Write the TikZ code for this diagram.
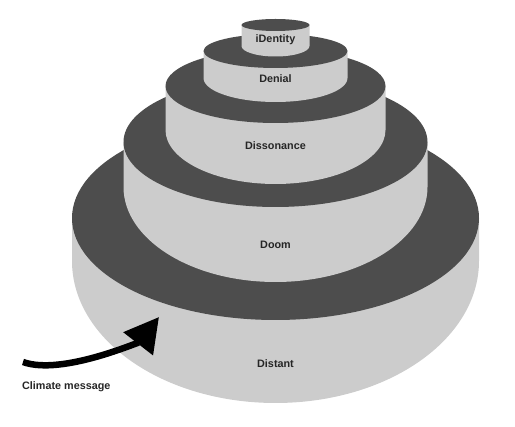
\documentclass[tikz,border=0pt]{standalone}
\usepackage{fontspec}
\setsansfont{Liberation Sans}
\usetikzlibrary{arrows.meta}
\definecolor{tierdark}{HTML}{4D4D4D}
\definecolor{tierlight}{HTML}{CCCCCC}

\begin{document}
\begin{tikzpicture}[
                    x=1pt, y=-1pt,
                    tierbody/.style={fill=tierlight},
                    tiertop/.style={fill=tierdark},
                    tierlabel/.style={anchor=base, text=black!85, font=\sffamily\bfseries\fontsize{10.8}{13}\selectfont},
                    msgarrow/.style={line width=6.5pt, -{Triangle[length=34pt,width=36pt]}}
                ]
                    \useasboundingbox (0,0) rectangle (515,427);
                    % tiers from the base up: rx / top y / top ry / bottom y / bottom ry / label / baseline / name
                    \foreach \rx/\yt/\ryt/\yb/\ryb/\lbl/\ly/\nm in {
                        203.5/218/102/261/142/Distant/368/distant,
                        152/142/65/187/95/Doom/249/doom,
                        110/86/37/130/54/Dissonance/150/dissonance,
                        72/51/17/78/24/Denial/83/denial,
                        34/25/6/46/10.5/iDentity/43/identity}{
                        \fill[tierbody] (275.5-\rx,\yt) -- (275.5-\rx,\yb)
                            arc[start angle=180, end angle=360, x radius=\rx pt, y radius=\ryb pt]
                            -- (275.5+\rx,\yt) -- cycle;
                        \fill[tiertop] (275.5,\yt) ellipse[x radius=\rx pt, y radius=\ryt pt];
                        \node[tierlabel] (\nm) at (275.5,\ly) {\lbl};
                    }

                    \node[tierlabel] (msg) at (66.3,390) {Climate message};
                    \coordinate (tail) at (23,362);
                    \coordinate (tip) at (159,317);
                    \draw[msgarrow] (tail) .. controls (62,376) and (140.4,340.9) .. (tip);
                \end{tikzpicture}
\end{document}
